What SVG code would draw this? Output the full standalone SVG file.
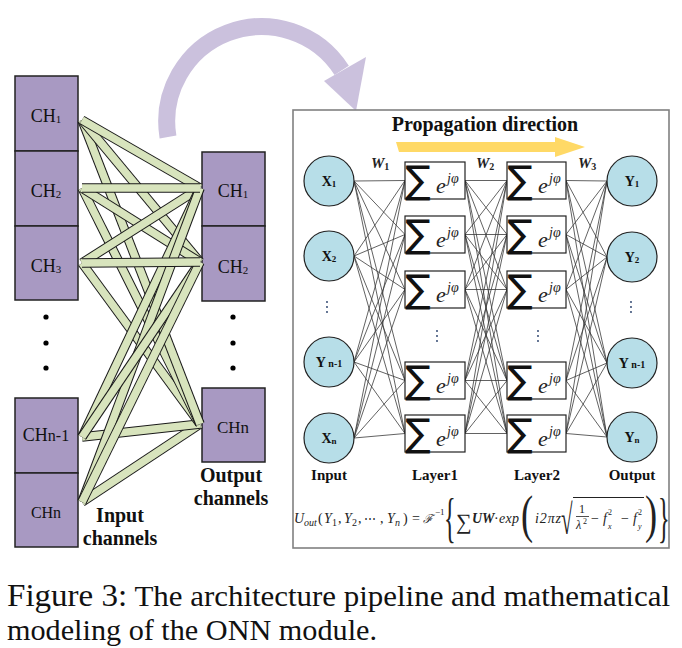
<svg xmlns="http://www.w3.org/2000/svg" width="682" height="648" viewBox="0 0 682 648">
<style>
.ch{fill:#a899c2;stroke:#222;stroke-width:1.5}
.lbl{font-family:'Liberation Serif',serif;fill:#111}
.bold{font-family:'Liberation Serif',serif;font-weight:bold;fill:#111}
.bo{stroke:#1a1a1a;stroke-width:9.5;fill:none}
.bi{stroke:#d8e4bd;stroke-width:7.5;fill:none}
.nd{fill:#b7dee8;stroke:#222;stroke-width:1.2}
.bx{fill:#fff;stroke:#222;stroke-width:1.2}
.ln{stroke:#3a3a3a;stroke-width:0.8;fill:none}
.sig{font-family:'DejaVu Sans',sans-serif;fill:#111}
.e{font-family:'Liberation Serif',serif;font-style:italic;fill:#222}
.nl{font-family:'Liberation Serif',serif;font-weight:bold;fill:#111}
.w{font-family:'Liberation Serif',serif;font-weight:bold;font-style:italic;fill:#222}
.m{font-family:'Liberation Serif',serif;font-style:italic;fill:#222}
.mu{font-family:'Liberation Serif',serif;fill:#222}
.dot{fill:#000}
.sd{fill:#1f3864}
</style>

<!-- big curved arrow -->
<g id="curve-arrow">
<path d="M168,137 A95,95 0 0 1 341.7,70.3" fill="none" stroke="#cbc1dd" stroke-width="17"/>
<polygon points="324,81 366,57 356,111" fill="#cbc1dd"/>
</g>

<!-- input channel boxes -->
<g id="in-ch1"><rect class="ch" x="15" y="76" width="63" height="75"/><text class="lbl" x="46" y="122" font-size="18" text-anchor="middle">CH<tspan font-size="11" dy="1">1</tspan></text></g>
<g id="in-ch2"><rect class="ch" x="15" y="151" width="63" height="75"/><text class="lbl" x="46" y="197" font-size="18" text-anchor="middle">CH<tspan font-size="11" dy="1">2</tspan></text></g>
<g id="in-ch3"><rect class="ch" x="15" y="226" width="63" height="74"/><text class="lbl" x="46" y="272" font-size="18" text-anchor="middle">CH<tspan font-size="11" dy="1">3</tspan></text></g>
<g id="in-chn1"><rect class="ch" x="15" y="398" width="63" height="75"/><text class="lbl" x="46" y="441" font-size="18" text-anchor="middle">CH<tspan font-size="16">n-1</tspan></text></g>
<g id="in-chn"><rect class="ch" x="15" y="473" width="63" height="74"/><text class="lbl" x="46" y="518" text-anchor="middle" font-size="16">CHn</text></g>
<g id="in-dots"><circle class="dot" cx="46" cy="317" r="2.6"/><circle class="dot" cx="46" cy="343" r="2.6"/><circle class="dot" cx="46" cy="368" r="2.6"/></g>

<!-- output channel boxes -->
<g id="out-ch1"><rect class="ch" x="202" y="152" width="63" height="74"/><text class="lbl" x="233" y="197" font-size="18" text-anchor="middle">CH<tspan font-size="11" dy="1">1</tspan></text></g>
<g id="out-ch2"><rect class="ch" x="202" y="226" width="63" height="75"/><text class="lbl" x="233" y="273" font-size="18" text-anchor="middle">CH<tspan font-size="11" dy="1">2</tspan></text></g>
<g id="out-chn"><rect class="ch" x="202" y="388" width="63" height="74"/><text class="lbl" x="233" y="433" text-anchor="middle" font-size="17">CHn</text></g>
<g id="out-dots"><circle class="dot" cx="233" cy="317" r="2.6"/><circle class="dot" cx="233" cy="343" r="2.6"/><circle class="dot" cx="233" cy="368" r="2.6"/></g>

<!-- fiber bands -->
<g id="bands">
<line class="bo" x1="82" y1="502" x2="200" y2="424"/><line class="bi" x1="82" y1="502" x2="200" y2="424"/>
<line class="bo" x1="82" y1="437" x2="200" y2="424"/><line class="bi" x1="82" y1="437" x2="200" y2="424"/>
<line class="bo" x1="82" y1="263" x2="200" y2="424"/><line class="bi" x1="82" y1="263" x2="200" y2="424"/>
<line class="bo" x1="82" y1="188" x2="200" y2="424"/><line class="bi" x1="82" y1="188" x2="200" y2="424"/>
<line class="bo" x1="82" y1="120" x2="200" y2="424"/><line class="bi" x1="82" y1="120" x2="200" y2="424"/>
<line class="bo" x1="82" y1="120" x2="200" y2="262"/><line class="bi" x1="82" y1="120" x2="200" y2="262"/>
<line class="bo" x1="82" y1="188" x2="200" y2="262"/><line class="bi" x1="82" y1="188" x2="200" y2="262"/>
<line class="bo" x1="82" y1="263" x2="200" y2="188"/><line class="bi" x1="82" y1="263" x2="200" y2="188"/>
<line class="bo" x1="82" y1="437" x2="200" y2="188"/><line class="bi" x1="82" y1="437" x2="200" y2="188"/>
<line class="bo" x1="82" y1="502" x2="200" y2="188"/><line class="bi" x1="82" y1="502" x2="200" y2="188"/>
<line class="bo" x1="82" y1="437" x2="200" y2="262"/><line class="bi" x1="82" y1="437" x2="200" y2="262"/>
<line class="bo" x1="82" y1="502" x2="200" y2="262"/><line class="bi" x1="82" y1="502" x2="200" y2="262"/>
<line class="bo" x1="82" y1="263" x2="200" y2="262"/><line class="bi" x1="82" y1="263" x2="200" y2="262"/>
<line class="bo" x1="82" y1="120" x2="200" y2="188"/><line class="bi" x1="82" y1="120" x2="200" y2="188"/>
<line class="bo" x1="82" y1="188" x2="200" y2="188"/><line class="bi" x1="82" y1="188" x2="200" y2="188"/>
</g>

<g id="label-input-channels"><text class="bold" font-size="20" text-anchor="middle"><tspan x="120" y="522">Input</tspan><tspan x="120" y="545">channels</tspan></text></g>
<g id="label-output-channels"><text class="bold" font-size="20" text-anchor="middle"><tspan x="231" y="482">Output</tspan><tspan x="231" y="505">channels</tspan></text></g>

<!-- ONN panel -->
<g id="panel">
<rect x="293" y="110" width="376" height="438" fill="#fff" stroke="#808080" stroke-width="1.6"/>
<text class="bold" x="485" y="131" font-size="20" text-anchor="middle">Propagation direction</text>
<polygon points="396,142 555,142 555,137 585,147 555,157 555,152 399,152" fill="#ffd966"/>
</g>

<!-- connectors -->
<g id="connectors" class="ln">
<path d="M354 181L405 180.5M354 181L405 234.5M354 181L405 289.5M354 181L405 380.5M354 181L405 433.5
M354 256L405 180.5M354 256L405 234.5M354 256L405 289.5M354 256L405 380.5M354 256L405 433.5
M354 362L405 180.5M354 362L405 234.5M354 362L405 289.5M354 362L405 380.5M354 362L405 433.5
M354 438L405 180.5M354 438L405 234.5M354 438L405 289.5M354 438L405 380.5M354 438L405 433.5"/>
<path d="M465 180.5L507 180.5M465 180.5L507 234.5M465 180.5L507 289.5M465 180.5L507 380.5M465 180.5L507 433.5
M465 234.5L507 180.5M465 234.5L507 234.5M465 234.5L507 289.5M465 234.5L507 380.5M465 234.5L507 433.5
M465 289.5L507 180.5M465 289.5L507 234.5M465 289.5L507 289.5M465 289.5L507 380.5M465 289.5L507 433.5
M465 380.5L507 180.5M465 380.5L507 234.5M465 380.5L507 289.5M465 380.5L507 380.5M465 380.5L507 433.5
M465 433.5L507 180.5M465 433.5L507 234.5M465 433.5L507 289.5M465 433.5L507 380.5M465 433.5L507 433.5"/>
<path d="M566 180.5L607 181M566 180.5L607 257M566 180.5L607 363M566 180.5L607 437
M566 234.5L607 181M566 234.5L607 257M566 234.5L607 363M566 234.5L607 437
M566 289.5L607 181M566 289.5L607 257M566 289.5L607 363M566 289.5L607 437
M566 380.5L607 181M566 380.5L607 257M566 380.5L607 363M566 380.5L607 437
M566 433.5L607 181M566 433.5L607 257M566 433.5L607 363M566 433.5L607 437"/>
</g>

<!-- weights -->
<g id="weights">
<text class="w" x="371" y="168" font-size="15">W<tspan font-size="10" dy="2" font-style="normal">1</tspan></text>
<text class="w" x="476" y="168" font-size="15">W<tspan font-size="10" dy="2" font-style="normal">2</tspan></text>
<text class="w" x="578" y="168" font-size="15">W<tspan font-size="10" dy="2" font-style="normal">3</tspan></text>
</g>

<!-- input nodes -->
<g id="x1"><circle class="nd" cx="329" cy="181" r="25"/><text class="nl" x="329" y="186" font-size="14" text-anchor="middle">X<tspan font-size="9" dy="1">1</tspan></text></g>
<g id="x2"><circle class="nd" cx="329" cy="256" r="25"/><text class="nl" x="329" y="261" font-size="14" text-anchor="middle">X<tspan font-size="9" dy="1">2</tspan></text></g>
<g id="in-dots-small"><circle class="sd" cx="327" cy="302" r="0.9"/><circle class="sd" cx="327" cy="307" r="0.9"/><circle class="sd" cx="327" cy="312" r="0.9"/></g>
<g id="yn1"><circle class="nd" cx="329" cy="362" r="25"/><text class="nl" x="329" y="367" font-size="14" text-anchor="middle">Y<tspan font-size="10"> n-1</tspan></text></g>
<g id="xn"><circle class="nd" cx="329" cy="438" r="25"/><text class="nl" x="329" y="443" font-size="14" text-anchor="middle">X<tspan font-size="9" dy="1">n</tspan></text></g>

<!-- layer 1 -->
<g id="l1-1"><rect class="bx" x="405" y="162" width="60" height="37"/><text class="sig" x="405" y="193" font-size="38">∑</text><text class="e" x="436" y="193" font-size="22">e</text><text class="e" x="447" y="183" font-size="14">jφ</text></g>
<g id="l1-2"><rect class="bx" x="405" y="216" width="60" height="37"/><text class="sig" x="405" y="247" font-size="38">∑</text><text class="e" x="436" y="247" font-size="22">e</text><text class="e" x="447" y="237" font-size="14">jφ</text></g>
<g id="l1-3"><rect class="bx" x="405" y="271" width="60" height="37"/><text class="sig" x="405" y="302" font-size="38">∑</text><text class="e" x="436" y="302" font-size="22">e</text><text class="e" x="447" y="292" font-size="14">jφ</text></g>
<g id="l1-dots"><circle class="sd" cx="437" cy="331" r="0.9"/><circle class="sd" cx="437" cy="336" r="0.9"/><circle class="sd" cx="437" cy="341" r="0.9"/></g>
<g id="l1-4"><rect class="bx" x="405" y="362" width="60" height="37"/><text class="sig" x="405" y="393" font-size="38">∑</text><text class="e" x="436" y="393" font-size="22">e</text><text class="e" x="447" y="383" font-size="14">jφ</text></g>
<g id="l1-5"><rect class="bx" x="405" y="415" width="60" height="37"/><text class="sig" x="405" y="446" font-size="38">∑</text><text class="e" x="436" y="446" font-size="22">e</text><text class="e" x="447" y="436" font-size="14">jφ</text></g>

<!-- layer 2 -->
<g id="l2-1"><rect class="bx" x="507" y="162" width="59" height="37"/><text class="sig" x="507" y="193" font-size="38">∑</text><text class="e" x="538" y="193" font-size="22">e</text><text class="e" x="549" y="183" font-size="14">jφ</text></g>
<g id="l2-2"><rect class="bx" x="507" y="216" width="59" height="37"/><text class="sig" x="507" y="247" font-size="38">∑</text><text class="e" x="538" y="247" font-size="22">e</text><text class="e" x="549" y="237" font-size="14">jφ</text></g>
<g id="l2-3"><rect class="bx" x="507" y="271" width="59" height="37"/><text class="sig" x="507" y="302" font-size="38">∑</text><text class="e" x="538" y="302" font-size="22">e</text><text class="e" x="549" y="292" font-size="14">jφ</text></g>
<g id="l2-dots"><circle class="sd" cx="538" cy="331" r="0.9"/><circle class="sd" cx="538" cy="336" r="0.9"/><circle class="sd" cx="538" cy="341" r="0.9"/></g>
<g id="l2-4"><rect class="bx" x="507" y="362" width="59" height="37"/><text class="sig" x="507" y="393" font-size="38">∑</text><text class="e" x="538" y="393" font-size="22">e</text><text class="e" x="549" y="383" font-size="14">jφ</text></g>
<g id="l2-5"><rect class="bx" x="507" y="415" width="59" height="37"/><text class="sig" x="507" y="446" font-size="38">∑</text><text class="e" x="538" y="446" font-size="22">e</text><text class="e" x="549" y="436" font-size="14">jφ</text></g>

<!-- output nodes -->
<g id="y1"><circle class="nd" cx="632" cy="181" r="25"/><text class="nl" x="632" y="186" font-size="14" text-anchor="middle">Y<tspan font-size="9" dy="1">1</tspan></text></g>
<g id="y2"><circle class="nd" cx="632" cy="257" r="25"/><text class="nl" x="632" y="262" font-size="14" text-anchor="middle">Y<tspan font-size="9" dy="1">2</tspan></text></g>
<g id="out-dots-small"><circle class="sd" cx="631" cy="302" r="0.9"/><circle class="sd" cx="631" cy="307" r="0.9"/><circle class="sd" cx="631" cy="312" r="0.9"/></g>
<g id="yo-n1"><circle class="nd" cx="632" cy="363" r="25"/><text class="nl" x="632" y="368" font-size="14" text-anchor="middle">Y<tspan font-size="10"> n-1</tspan></text></g>
<g id="yo-n"><circle class="nd" cx="632" cy="437" r="25"/><text class="nl" x="632" y="442" font-size="14" text-anchor="middle">Y<tspan font-size="9" dy="1">n</tspan></text></g>

<!-- column labels -->
<g id="col-labels">
<text class="bold" x="329" y="480" font-size="15" text-anchor="middle">Input</text>
<text class="bold" x="435" y="480" font-size="15" text-anchor="middle">Layer1</text>
<text class="bold" x="537" y="480" font-size="15" text-anchor="middle">Layer2</text>
<text class="bold" x="632" y="480" font-size="15" text-anchor="middle">Output</text>
</g>

<!-- formula -->
<g id="formula" font-size="14">
<text class="m" x="294" y="523">U</text>
<text class="m" x="304" y="526" font-size="10">out</text>
<text class="mu" x="318" y="523">(</text>
<text class="m" x="324" y="523">Y</text><text class="mu" x="332" y="526" font-size="10">1</text><text class="mu" x="338" y="523">,</text>
<text class="m" x="344" y="523">Y</text><text class="mu" x="352" y="526" font-size="10">2</text><text class="mu" x="358" y="523">,</text>
<text class="mu" x="364" y="523" font-family="DejaVu Sans" font-size="12">⋯</text>
<text class="mu" x="380" y="523">,</text>
<text class="m" x="387" y="523">Y</text><text class="m" x="395" y="526" font-size="10">n</text><text class="mu" x="403" y="523">)</text>
<text class="mu" x="412" y="523">=</text>
<text class="mu" x="423" y="523" font-family="DejaVu Serif, DejaVu Sans" font-style="italic" font-size="12">ℱ</text>
<text class="mu" x="435" y="515" font-size="9">−1</text>
<text class="mu" transform="translate(444,536) scale(0.45,1)" font-size="54">{</text>
<text class="mu" x="456" y="529" font-family="DejaVu Sans" font-size="22">∑</text>
<text class="m" x="472" y="523" font-weight="bold">UW</text>
<text class="mu" x="494" y="523">·</text>
<text class="m" x="499" y="523" textLength="20">exp</text>
<text class="mu" transform="translate(521,532) scale(0.7,1)" font-size="52">(</text>
<text class="m" x="535" y="523" textLength="26">i2πz</text>
<text class="mu" transform="translate(561,534) scale(0.5,1)" font-family="DejaVu Sans" font-size="42">√</text>
<line x1="573" y1="497.5" x2="644" y2="497.5" stroke="#222" stroke-width="1"/>
<text class="mu" x="579" y="513" font-size="12">1</text>
<line x1="576" y1="516.5" x2="589" y2="516.5" stroke="#222" stroke-width="0.8"/>
<text class="m" x="576" y="529" font-size="12">λ</text><text class="mu" x="583" y="523.5" font-size="8">2</text>
<text class="mu" x="591" y="523">−</text>
<text class="m" x="603" y="523">f</text><text class="m" x="608" y="529" font-size="8">x</text><text class="mu" x="608" y="515" font-size="8">2</text>
<text class="mu" x="621" y="523">−</text>
<text class="m" x="633" y="523">f</text><text class="m" x="638" y="529" font-size="8">y</text><text class="mu" x="638" y="515" font-size="8">2</text>
<text class="mu" transform="translate(645,532) scale(0.7,1)" font-size="52">)</text>
<text class="mu" transform="translate(658,536) scale(0.45,1)" font-size="54">}</text>
</g>

<!-- caption -->
<g id="caption" font-family="'Liberation Serif', serif" fill="#111">
<text x="7" y="606" font-size="29" textLength="663" lengthAdjust="spacingAndGlyphs"><tspan font-size="31">Figure 3:</tspan> The architecture pipeline and mathematical</text>
<text x="7" y="640" font-size="29" textLength="370" lengthAdjust="spacingAndGlyphs">modeling of the ONN module.</text>
</g>
</svg>
